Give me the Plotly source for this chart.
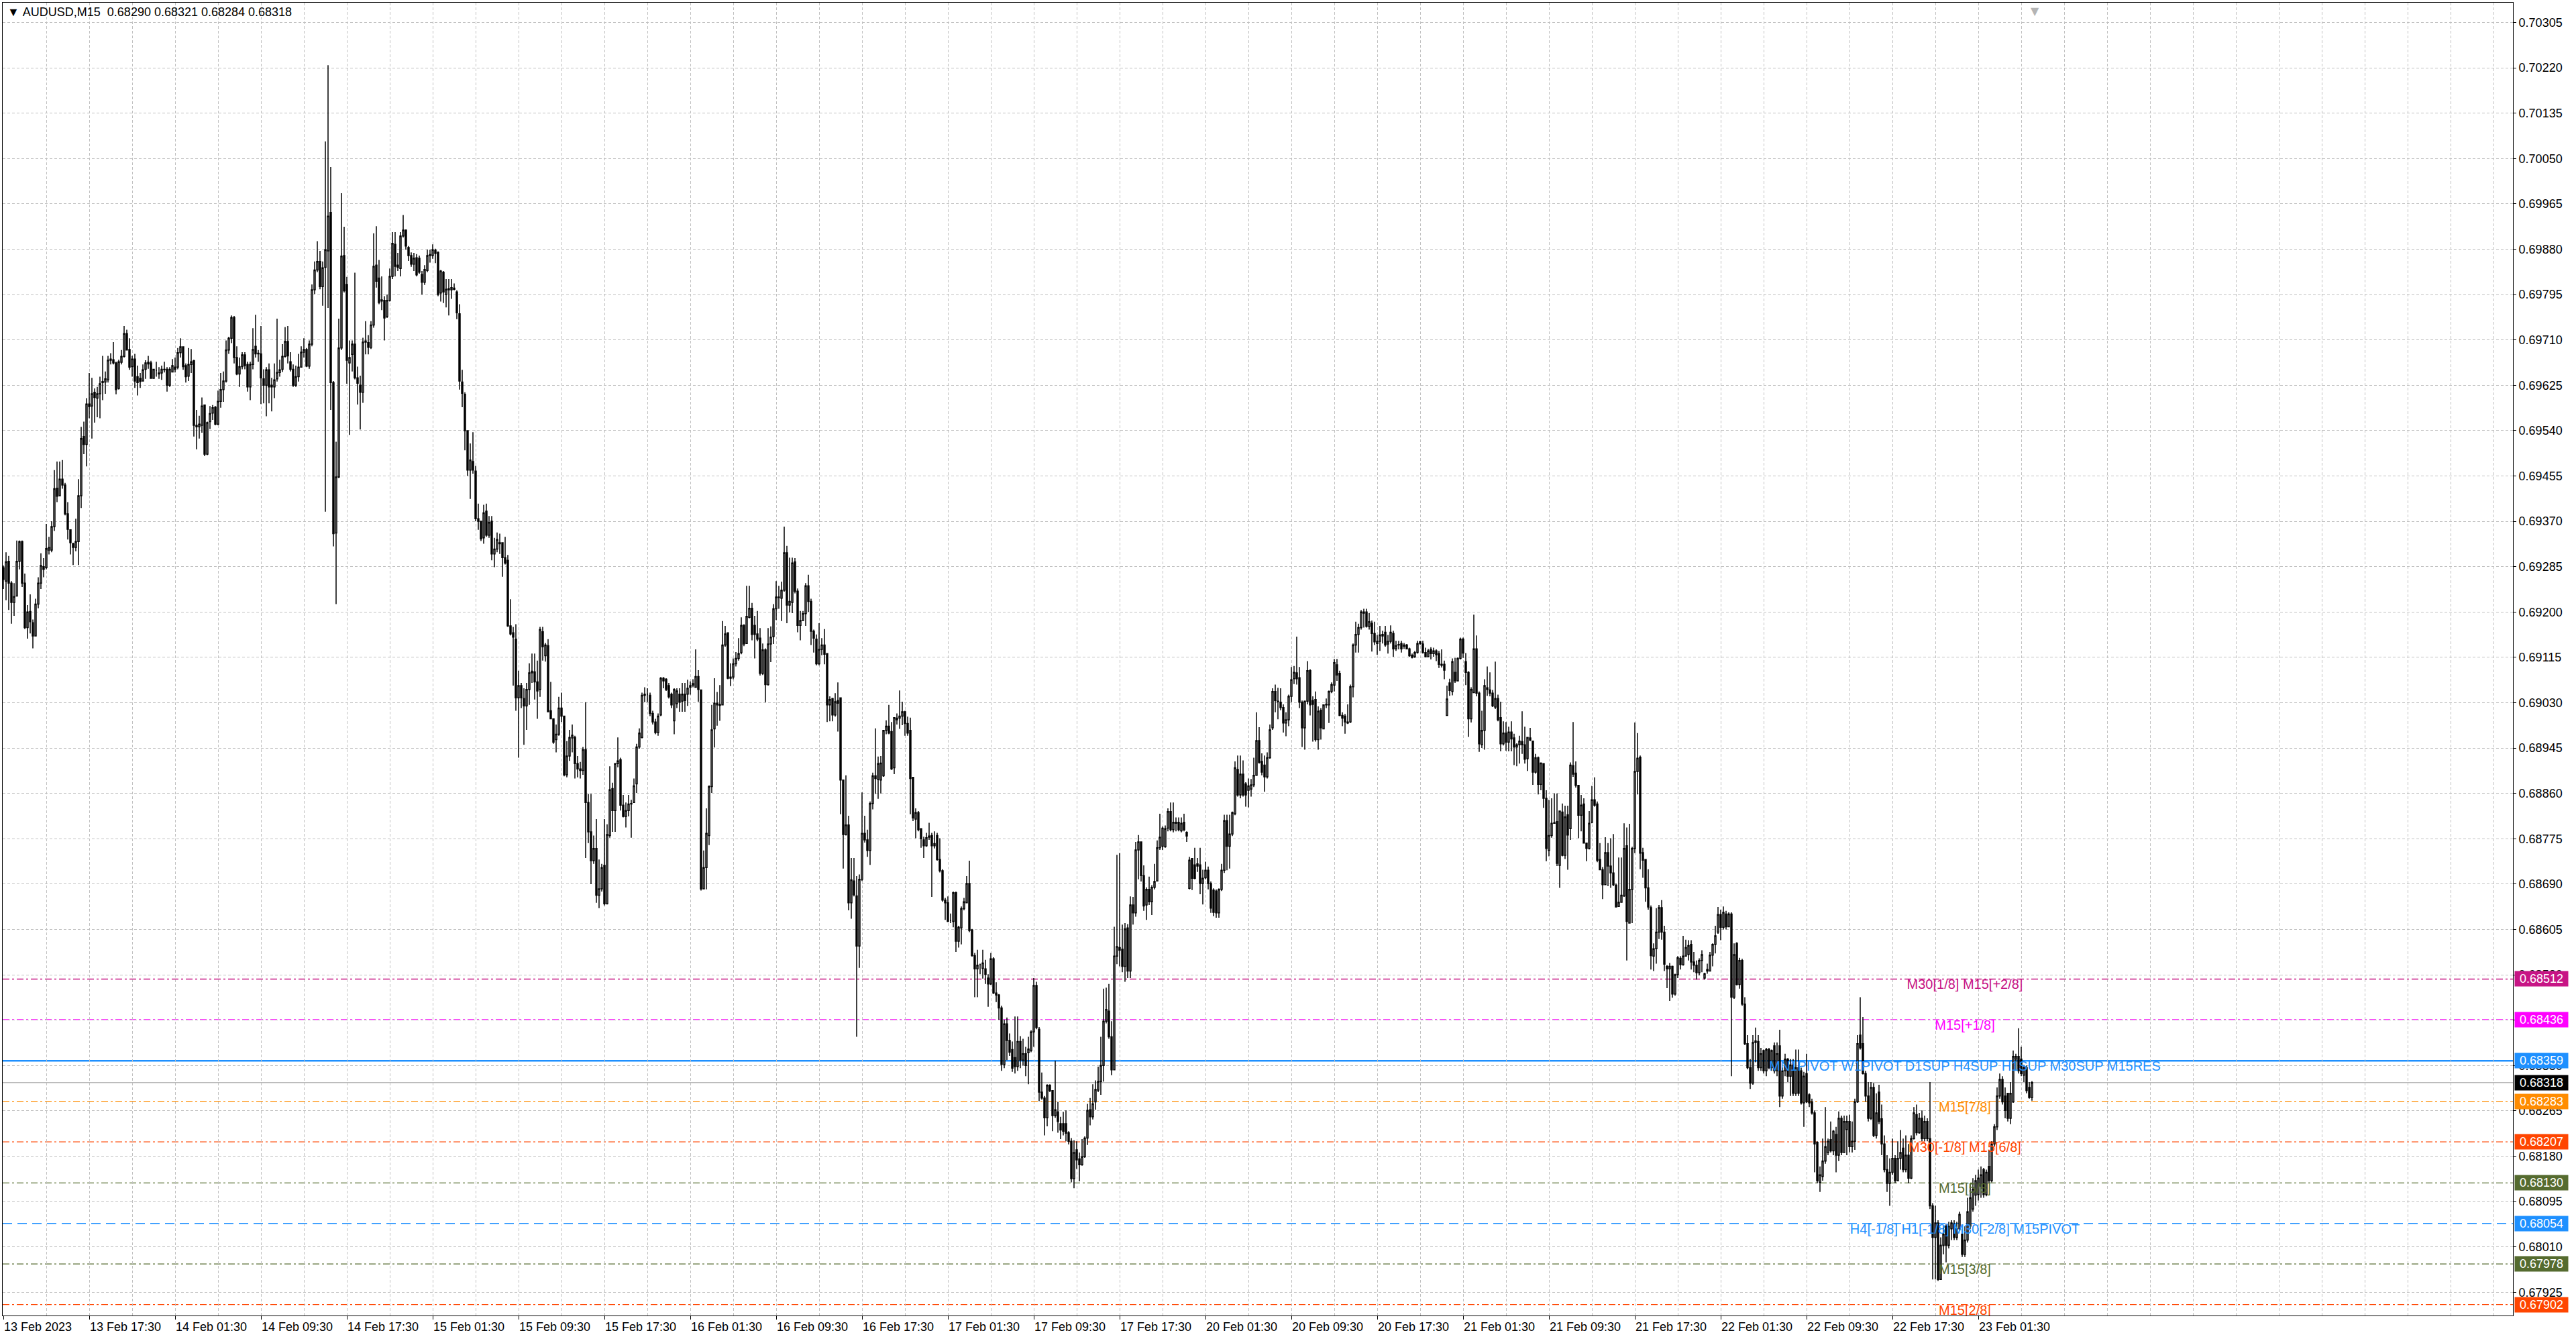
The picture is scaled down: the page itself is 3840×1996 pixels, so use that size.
import plotly.graph_objects as go

# ---------------- data (prices in points, 1 point = 0.00001) ----------------
open_pts = [
69283,69258,69295,69254,69218,69230,69295,69332,69254,69171,69201,69180,69155,69215,69254,69285,
69283,69316,69316,69360,69432,69418,69449,69438,69384,69354,69328,69321,69332,69418,69529,69514,
69590,69586,69612,69601,69609,69630,69631,69635,69672,69673,69667,69619,69668,69679,69722,69692,
69660,69674,69641,69638,69633,69655,69665,69667,69638,69653,69646,69648,69655,69655,69625,69650,
69659,69659,69686,69697,69662,69642,69664,69671,69550,69547,69550,69588,69496,69557,69573,69584,
69552,69595,69617,69633,69691,69713,69752,69677,69646,69660,69682,69664,69622,69664,69698,69684,
69684,69637,69625,69654,69625,69622,69637,69649,69655,69679,69707,69669,69655,69625,69641,69659,
69687,69692,69661,69702,69804,69841,69857,69810,69846,69877,69949,69630,69348,69453,69695,69868,
69814,69667,69683,69702,69639,69625,69612,69706,69705,69696,69738,69850,69826,69785,69784,69754,
69784,69829,69889,69850,69844,69905,69916,69883,69868,69852,69864,69863,69833,69818,69840,69868,
69868,69878,69874,69798,69837,69795,69806,69804,69807,69800,69759,69631,69608,69540,69466,69482,
69464,69375,69370,69339,69389,69344,69370,69309,69318,69330,69330,69302,69297,69174,69161,69149,
69039,69062,69038,69024,69055,69086,69088,69069,69055,69163,69118,69137,69015,69000,68961,68971,
69020,69005,68895,68930,68964,68965,68916,68906,68903,68942,68843,68788,68734,68757,68669,68681,
68725,68653,68781,68869,68828,68916,68923,68838,68817,68828,68840,68843,68878,68947,68965,69044,
69046,69044,69010,68994,68974,69007,69076,69074,69062,69046,68996,69028,69046,69033,69046,69046,
69059,69063,69059,69079,69054,68681,68721,68781,68873,68981,69029,69027,69026,69138,69161,69076,
69078,69103,69113,69124,69175,69141,69190,69207,69175,69159,69151,69085,69129,69064,69140,69154,
69206,69228,69226,69241,69311,69213,69218,69294,69239,69175,69184,69197,69249,69220,69164,69149,
69103,69130,69138,69122,69026,69038,69007,69034,69039,68885,68783,68801,68655,68696,68668,68574,
68699,68785,68773,68753,68841,68893,68886,68885,68893,68978,68986,68976,68908,68998,69001,69005,
69013,68991,68978,68890,68812,68824,68794,68773,68762,68778,68781,68762,68781,68736,68715,68660,
68655,68622,68620,68674,68583,68608,68644,68655,68691,68604,68556,68531,68539,68532,68531,68514,
68503,68550,68486,68482,68458,68352,68428,68397,68380,68365,68348,68395,68360,68372,68374,68378,
68413,68500,68418,68300,68289,68252,68313,68303,68256,68263,68241,68241,68241,68224,68208,68138,
68192,68175,68164,68179,68214,68267,68254,68282,68304,68320,68350,68433,68452,68404,68342,68555,
68571,68568,68536,68608,68527,68651,68636,68754,68769,68706,68651,68680,68657,68684,68696,68758,
68761,68760,68795,68826,68792,68806,68806,68790,68806,68787,68682,68738,68726,68728,68726,68691,
68702,68716,68691,68679,68677,68636,68680,68716,68809,68761,68784,68822,68905,68857,68896,68878,
68866,68868,68876,68894,68959,68920,68913,68891,68927,68983,69051,69033,69031,69021,68992,68998,
69042,69075,69086,69077,69031,68983,69033,69090,69034,69036,68961,69016,68981,69026,69026,69051,
69063,69101,69085,69006,69005,68992,68994,69060,69138,69158,69171,69198,69200,69173,69179,69160,
69141,69145,69155,69162,69140,69145,69160,69131,69138,69141,69136,69138,69131,69119,69116,69124,
69141,69140,69124,69116,69130,69122,69127,69122,69102,69102,69006,69067,69051,69087,69071,69113,
69149,69107,69087,69000,69049,69131,69048,68951,68978,69058,69054,69048,69022,69038,69002,68953,
68973,68956,68975,68964,68947,68951,68957,68951,68925,68964,68958,68900,68927,68877,68916,68851,
68753,68781,68804,68807,68725,68825,68744,68820,68794,68912,68898,68875,68819,68840,68767,68757,
68806,68848,68840,68736,68717,68689,68749,68724,68711,68688,68648,68656,68668,68762,68617,68680,
68757,68901,68928,68749,68736,68683,68646,68555,68569,68600,68646,68600,68536,68531,68536,68484,
68520,68551,68539,68555,68558,68577,68544,68538,68524,68547,68514,68530,68527,68557,68577,68600,
68633,68609,68634,68610,68634,68478,68579,68502,68547,68465,68391,68346,68317,68393,68395,68346,
68378,68340,68380,68346,68387,68340,68387,68293,68340,68362,68330,68351,68298,68346,68340,68280,
68335,68295,68282,68261,68206,68131,68142,68171,68187,68211,68190,68221,68182,68251,68187,68230,
68245,68198,68208,68282,68407,68391,68335,68293,68251,68309,68219,68300,68250,68203,68155,68129,
68150,68176,68134,68176,68195,68155,68182,68139,68213,68258,68224,68251,68213,68245,68213,68087,
68028,68055,67949,68013,68049,68013,68044,68052,68028,68044,68034,67996,68023,68049,68081,68107,
68108,68124,68155,68108,68161,68134,68203,68235,68293,68324,68293,68298,68251,68282,68362,68367,
68362,68332,68346,68309,68290,
]
high_pts = [
69287,69312,69305,69258,69254,69334,69334,69334,69272,69213,69233,69186,69225,69265,69310,69301,
69365,69341,69370,69466,69482,69482,69485,69442,69406,69355,69330,69375,69449,69547,69557,69601,
69648,69639,69619,69622,69641,69680,69651,69680,69685,69706,69669,69673,69691,69736,69729,69713,
69680,69684,69662,69648,69664,69672,69680,69671,69656,69669,69659,69662,69669,69659,69659,69674,
69677,69695,69713,69698,69666,69695,69693,69673,69579,69568,69602,69588,69557,69586,69588,69586,
69615,69648,69651,69709,69716,69756,69755,69698,69677,69687,69687,69669,69669,69732,69757,69691,
69736,69655,69659,69666,69639,69666,69750,69673,69702,69734,69736,69687,69664,69662,69684,69698,
69713,69695,69709,69814,69857,69895,69877,69857,70082,70225,70034,69633,69519,69750,69985,69922,
69828,69709,69709,69836,69660,69643,69714,69745,69719,69745,69910,69923,69860,69829,69792,69795,
69844,69912,69912,69873,69912,69944,69917,69886,69874,69873,69871,69868,69839,69850,69879,69879,
69889,69881,69876,69841,69839,69824,69824,69824,69816,69803,69777,69654,69612,69540,69516,69537,
69474,69403,69370,69401,69403,69380,69380,69339,69349,69347,69330,69341,69307,69224,69172,69177,
69090,69067,69057,69067,69104,69122,69122,69109,69172,69172,69142,69149,69069,69000,68989,69041,
69049,69005,68958,68979,68989,68968,68930,68919,68947,69031,68859,68859,68781,68812,68736,68728,
68812,68802,68911,68880,68916,68965,68927,68857,68843,68857,68848,68888,68953,68982,69049,69059,
69057,69049,69015,69000,69010,69078,69078,69076,69067,69049,69057,69057,69057,69067,69067,69073,
69070,69074,69130,69091,69055,68753,68832,68875,69026,69076,69050,69063,69183,69174,69162,69104,
69113,69125,69151,69190,69177,69249,69249,69217,69193,69202,69170,69141,69132,69170,69173,69215,
69258,69249,69257,69360,69324,69302,69302,69301,69244,69202,69202,69254,69270,69225,69167,69158,
69179,69151,69168,69123,69042,69039,69048,69068,69039,68885,68894,68818,68739,68739,68705,68708,
68862,68818,68792,68845,68899,68982,68929,68930,68978,68997,69026,68994,69002,69010,69053,69032,
69015,69004,69002,68890,68832,68827,68795,68779,68786,68805,68786,68789,68786,68776,68718,68664,
68667,68635,68676,68676,68612,68648,68664,68705,68734,68606,68561,68567,68541,68567,68548,68521,
68561,68553,68506,68484,68462,68436,68440,68410,68395,68442,68442,68405,68400,68385,68404,68416,
68514,68507,68422,68337,68293,68315,68315,68304,68359,68282,68254,68263,68266,68227,68214,68210,
68208,68187,68212,68217,68278,68289,68315,68322,68348,68404,68494,68496,68503,68433,68610,68745,
68748,68614,68617,68615,68667,68666,68769,68782,68770,68725,68684,68704,68688,68728,68772,68822,
68798,68800,68832,68843,68843,68815,68815,68815,68822,68789,68741,68739,68758,68739,68758,68717,
68732,68723,68695,68682,68680,68682,68728,68820,68820,68820,68826,68920,68931,68931,68922,68881,
68888,68887,68927,69012,68984,68935,68931,68937,68989,69057,69064,69058,69057,69027,69012,69045,
69097,69099,69154,69097,69034,69034,69108,69093,69042,69051,69023,69020,69027,69038,69053,69068,
69112,69112,69090,69012,69009,69027,69064,69141,69182,69178,69204,69206,69206,69198,69184,69182,
69157,69174,69165,69174,69157,69175,69165,69146,69146,69146,69142,69140,69133,69122,69127,69146,
69146,69146,69133,69131,69134,69133,69130,69127,69130,69109,69062,69075,69113,69114,69115,69152,
69152,69123,69089,69059,69195,69156,69051,69015,69074,69098,69087,69054,69107,69045,69032,68995,
68994,68985,68995,68972,68954,68968,69014,68985,68966,68983,68958,68934,68929,68918,68916,68866,
68848,68851,68860,68860,68827,68841,68837,68837,68918,68994,68920,68875,68857,68851,68767,68827,
68874,68890,68845,68767,68722,68778,68767,68776,68784,68691,68740,68740,68804,68796,68803,68760,
68993,68973,68931,68758,68736,68718,68650,68579,68645,68651,68660,68612,68538,68542,68537,68522,
68555,68555,68593,68586,68585,68585,68563,68547,68551,68566,68524,68541,68563,68579,68612,68647,
68642,68648,68640,68637,68637,68579,68581,68552,68550,68478,68407,68362,68407,68421,68407,68383,
68380,68383,68383,68380,68393,68393,68417,68346,68372,68364,68362,68362,68380,68380,68346,68338,
68372,68298,68288,68266,68208,68161,68213,68272,68213,68245,68229,68235,68264,68256,68256,68256,
68258,68245,68288,68407,68478,68441,68340,68319,68319,68317,68298,68314,68277,68219,68182,68176,
68213,68182,68208,68229,68213,68219,68203,68219,68272,68277,68261,68266,68256,68251,68319,68092,
68087,68060,68028,68049,68052,68057,68060,68060,68057,68076,68044,68049,68102,68129,68139,68145,
68155,68161,68158,68155,68192,68208,68240,68309,68335,68330,68309,68298,68319,68378,68372,68420,
68385,68351,68350,68319,68321,
]
low_pts = [
69243,69222,69204,69178,69193,69230,69280,69247,69168,69150,69160,69132,69155,69207,69243,69265,
69280,69308,69312,69352,69406,69417,69431,69381,69336,69308,69288,69314,69288,69395,69496,69473,
69563,69525,69555,69565,69563,69597,69609,69630,69664,69664,69608,69617,69664,69677,69690,69654,
69641,69620,69606,69620,69632,69637,69656,69638,69637,69641,69637,69635,69649,69613,69622,69649,
69649,69655,69677,69654,69630,69633,69648,69529,69505,69525,69536,69492,69494,69543,69560,69550,
69550,69583,69594,69630,69684,69704,69666,69644,69622,69655,69655,69613,69597,69655,69677,69669,
69590,69591,69567,69591,69576,69601,69632,69641,69650,69677,69666,69651,69622,69622,69632,69658,
69677,69659,69656,69698,69796,69837,69805,69774,69388,69770,69579,69323,69215,69451,69691,69799,
69628,69532,69651,69636,69589,69542,69592,69683,69683,69693,69733,69808,69777,69766,69709,69751,
69782,69824,69829,69839,69829,69902,69879,69858,69847,69839,69829,69834,69795,69813,69837,69855,
69862,69854,69792,69782,69779,69771,69756,69787,69803,69749,69617,69584,69503,69455,69412,69459,
69370,69354,69333,69328,69341,69339,69297,69284,69312,69309,69266,69289,69172,69156,69062,69015,
68927,69020,68951,68979,69026,69067,69036,69000,69041,69109,69107,69013,69000,68953,68937,68968,
68994,68892,68890,68921,68937,68888,68890,68888,68895,68739,68767,68690,68728,68655,68645,68676,
68650,68652,68777,68788,68788,68909,68828,68815,68796,68817,68777,68843,68861,68944,68963,69031,
69031,69005,68989,68971,68968,69005,69057,69052,69038,69020,68971,69020,69013,69013,69013,69024,
69045,69059,69058,69032,68678,68680,68680,68763,68861,68946,68987,68996,69025,69135,69074,69061,
69074,69098,69109,69121,69136,69140,69188,69147,69113,69145,69081,69082,69031,69062,69106,69140,
69185,69206,69183,69238,69179,69199,69198,69235,69162,69147,69183,69174,69200,69138,69124,69100,
69100,69119,69102,68994,68995,68995,69004,68976,68821,68719,68781,68641,68625,68667,68404,68533,
68696,68768,68741,68726,68830,68859,68850,68860,68891,68971,68971,68904,68896,68989,68981,68988,
68968,68968,68821,68808,68776,68789,68758,68739,68760,68773,68666,68757,68734,68712,68657,68623,
68619,68617,68609,68563,68571,68577,68641,68654,68600,68554,68478,68478,68521,68513,68503,68460,
68501,68484,68469,68436,68340,68345,68360,68368,68338,68335,68340,68345,68350,68330,68315,68375,
68385,68418,68283,68286,68219,68236,68300,68227,68252,68224,68212,68219,68208,68202,68131,68120,
68156,68133,68162,68177,68201,68238,68249,68267,68300,68295,68320,68429,68400,68332,68341,68540,
68536,68525,68507,68514,68514,68614,68629,68699,68695,68640,68623,68651,68632,68680,68695,68754,
68754,68758,68789,68789,68787,68789,68789,68787,68789,68769,68680,68679,68699,68713,68671,68652,
68699,68680,68636,68630,68627,68627,68677,68711,68716,68719,68780,68819,68854,68851,68854,68835,
68834,68854,68872,68894,68916,68894,68863,68888,68925,68979,69012,68999,69016,68974,68967,68986,
69031,69065,69064,69020,68947,68942,69027,69006,68957,68957,68942,68961,68981,69020,68992,69048,
69051,69071,69005,68986,68972,68990,68992,69040,69124,69124,69167,69171,69171,69167,69126,69138,
69120,69127,69141,69135,69122,69141,69116,69127,69130,69124,69131,69131,69116,69113,69114,69122,
69138,69122,69115,69116,69111,69116,69108,69095,69096,69074,69006,69043,69044,69067,69070,69111,
69114,69063,68966,68993,69048,69042,68938,68945,68942,69043,69042,69022,69018,68995,68939,68950,
68940,68939,68939,68913,68911,68916,68934,68916,68902,68958,68876,68897,68858,68866,68833,68733,
68742,68777,68803,68724,68683,68742,68737,68717,68773,68891,68871,68776,68789,68766,68733,68755,
68804,68835,68731,68716,68662,68688,68686,68683,68686,68647,68647,68655,68666,68547,68616,68617,
68748,68858,68718,68702,68657,68642,68530,68527,68541,68587,68586,68527,68495,68471,68477,68481,
68514,68530,68537,68555,68547,68530,68525,68511,68519,68525,68511,68522,68526,68536,68560,68597,
68585,68605,68605,68610,68330,68475,68500,68494,68462,68388,68343,68306,68314,68356,68340,68340,
68335,68330,68343,68340,68335,68330,68272,68288,68330,68319,68293,68293,68293,68293,68277,68235,
68280,68272,68258,68150,68129,68113,68134,68166,68182,68187,68182,68150,68171,68182,68187,68182,
68187,68187,68192,68280,68380,68333,68282,68245,68248,68216,68213,68240,68182,68150,68113,68087,
68145,68129,68134,68155,68150,68150,68129,68137,68211,68219,68222,68208,68208,68208,68081,67949,
67949,67946,67949,67996,67981,68007,68023,68023,68023,68040,67991,67991,68018,68044,68076,68087,
68097,68102,68102,68105,68129,68131,68198,68229,68288,68277,68251,68245,68240,68280,68340,68335,
68330,68319,68298,68288,68284,
]
close_pts = [
69261,69294,69254,69218,69229,69295,69332,69254,69171,69200,69182,69155,69215,69254,69287,69280,
69319,69321,69360,69431,69417,69449,69438,69384,69355,69330,69321,69332,69418,69525,69514,69590,
69585,69609,69602,69609,69628,69632,69637,69672,69674,69667,69617,69669,69679,69722,69691,69659,
69674,69633,69630,69632,69654,69667,69668,69638,69655,69653,69648,69655,69654,69625,69655,69662,
69655,69686,69697,69660,69641,69664,69669,69550,69547,69552,69586,69496,69555,69572,69583,69552,
69595,69617,69633,69691,69713,69752,69677,69646,69660,69682,69662,69622,69664,69692,69684,69685,
69639,69625,69654,69622,69622,69635,69649,69654,69679,69707,69680,69655,69625,69641,69659,69687,
69692,69661,69702,69804,69841,69857,69810,69845,69879,69942,69630,69347,69453,69695,69867,69802,
69672,69677,69702,69639,69629,69612,69706,69708,69696,69738,69848,69820,69780,69783,69751,69784,
69829,69891,69848,69846,69905,69916,69886,69868,69852,69863,69832,69837,69818,69842,69868,69870,
69879,69872,69795,69839,69800,69805,69804,69808,69805,69761,69633,69610,69540,69466,69485,69466,
69375,69370,69337,69386,69344,69368,69309,69318,69336,69328,69302,69292,69174,69159,69153,69039,
69062,69039,69024,69055,69086,69089,69069,69052,69167,69135,69138,69013,69000,68956,68971,69020,
69005,68895,68930,68965,68969,68916,68906,68903,68942,68843,68788,68734,68757,68669,68681,68721,
68653,68783,68867,68828,68916,68921,68838,68817,68828,68840,68841,68874,68947,68973,69044,69046,
69046,69010,68994,68974,69005,69076,69071,69055,69041,69026,69055,69052,69031,69046,69034,69057,
69062,69066,69079,69055,68681,68721,68785,68873,68979,69029,69026,69025,69138,69159,69076,69078,
69103,69113,69122,69175,69140,69192,69207,69158,69158,69149,69085,69129,69064,69140,69153,69206,
69228,69227,69241,69311,69213,69220,69292,69239,69175,69184,69197,69249,69220,69164,69151,69103,
69130,69138,69121,69026,69036,69007,69032,69029,68885,68783,68801,68655,68698,68670,68574,68699,
68785,68773,68753,68841,68893,68888,68916,68917,68978,68986,68973,68906,69002,69001,69005,69013,
68991,68973,68888,68814,68824,68792,68775,68762,68777,68780,68762,68766,68736,68715,68660,68655,
68620,68622,68674,68583,68609,68644,68657,68691,68603,68556,68531,68538,68539,68542,68521,68503,
68550,68486,68482,68458,68352,68428,68397,68375,68345,68348,68395,68360,68372,68350,68381,68413,
68500,68421,68300,68289,68252,68313,68303,68256,68267,68245,68229,68227,68223,68208,68138,68187,
68173,68164,68179,68214,68266,68254,68278,68305,68320,68350,68433,68455,68404,68342,68555,68573,
68566,68536,68606,68527,68651,68636,68754,68769,68706,68649,68680,68657,68684,68695,68758,68778,
68795,68794,68826,68792,68806,68804,68792,68804,68792,68780,68735,68701,68701,68724,68691,68701,
68716,68691,68645,68637,68636,68680,68716,68809,68761,68784,68824,68908,68857,68896,68857,68857,
68874,68876,68894,68959,68918,68900,68891,68927,68979,69051,69034,69032,69021,68992,68998,69042,
69073,69087,69075,69031,68983,69033,69090,69026,69027,68961,69014,68983,69026,69027,69051,69064,
69105,69082,69006,69001,68994,68994,69060,69138,69158,69171,69200,69200,69173,69182,69160,69144,
69145,69157,69158,69138,69145,69162,69131,69137,69139,69131,69138,69131,69118,69115,69124,69141,
69144,69124,69116,69127,69122,69127,69120,69102,69100,69091,69037,69053,69107,69071,69113,69149,
69123,69087,69000,69055,69131,69048,68953,68978,69062,69055,69048,69024,69038,68998,68953,68973,
68956,68975,68962,68947,68951,68958,68951,68924,68965,68960,68900,68927,68877,68917,68851,68757,
68781,68804,68805,68729,68827,68744,68816,68782,68913,68896,68875,68819,68838,68767,68757,68804,
68848,68838,68735,68717,68689,68749,68724,68711,68689,68647,68656,68669,68757,68620,68680,68757,
68901,68926,68748,68735,68683,68647,68556,68569,68600,68646,68600,68540,68531,68536,68484,68520,
68552,68539,68555,68571,68575,68544,68538,68524,68547,68558,68522,68527,68557,68577,68593,68633,
68609,68637,68610,68634,68478,68558,68502,68547,68465,68391,68346,68317,68393,68396,68346,68372,
68340,68380,68346,68378,68340,68372,68293,68340,68362,68330,68351,68298,68346,68298,68280,68330,
68282,68280,68261,68203,68134,68145,68171,68198,68208,68190,68227,68182,68251,68187,68245,68245,
68198,68208,68282,68391,68383,68335,68293,68251,68309,68219,68261,68245,68203,68155,68129,68150,
68176,68134,68176,68187,68155,68182,68139,68213,68261,68224,68251,68213,68245,68213,68087,68028,
68055,67949,68013,68034,68013,68049,68055,68028,68044,68071,67996,68023,68076,68102,68118,68134,
68139,68145,68108,68150,68134,68203,68235,68293,68324,68282,68266,68251,68298,68367,68367,68340,
68335,68346,68303,68290,68318,
]

# time-axis labels: one every 32 M15 bars (8 hours), grid every 16 bars
tick_bars = [0, 32, 64, 96, 128, 160, 192, 224, 256, 288, 320, 352,
             384, 416, 448, 480, 512, 544, 576, 608, 640, 672, 704, 736]
tick_labels = ["13 Feb 2023", "13 Feb 17:30", "14 Feb 01:30", "14 Feb 09:30",
               "14 Feb 17:30", "15 Feb 01:30", "15 Feb 09:30", "15 Feb 17:30",
               "16 Feb 01:30", "16 Feb 09:30", "16 Feb 17:30", "17 Feb 01:30",
               "17 Feb 09:30", "17 Feb 17:30", "20 Feb 01:30", "20 Feb 09:30",
               "20 Feb 17:30", "21 Feb 01:30", "21 Feb 09:30", "21 Feb 17:30",
               "22 Feb 01:30", "22 Feb 09:30", "22 Feb 17:30", "23 Feb 01:30"]

price_ticks = [0.70305, 0.70220, 0.70135, 0.70050, 0.69965, 0.69880, 0.69795,
               0.69710, 0.69625, 0.69540, 0.69455, 0.69370, 0.69285, 0.69200,
               0.69115, 0.69030, 0.68945, 0.68860, 0.68775, 0.68690, 0.68605,
               0.68520, 0.68435, 0.68350, 0.68265, 0.68180, 0.68095, 0.68010,
               0.67925]

level_prices = [0.68512, 0.68436, 0.68359, 0.68283, 0.68207, 0.68130, 0.68054, 0.67978, 0.67902]
level_labels = ["M30[1/8] M15[+2/8]", "M15[+1/8]",
                "MN1PIVOT W1PIVOT D1SUP H4SUP H1SUP M30SUP M15RES",
                "M15[7/8]", "M30[-1/8] M15[6/8]", "M15[5/8]",
                "H4[-1/8] H1[-1/8] M30[-2/8] M15PIVOT", "M15[3/8]", "M15[2/8]"]
level_colors = ["#C71585", "#FF00FF", "#1E90FF", "#FF8C00", "#FF4500",
                "#556B2F", "#1E90FF", "#556B2F", "#FF4500"]
level_styles = ["10px,4px,3px,4px", "10px,4px,3px,4px", "solid", "10px,4px,3px,4px",
                "10px,4px,3px,4px", "10px,4px,3px,4px", "14px,8px", "10px,4px,3px,4px",
                "10px,4px,3px,4px"]
level_widths = [1.3, 1.3, 2.5, 1.3, 1.3, 1.3, 1.3, 1.3, 1.3]

bid_price = 0.68318
title_text = "AUDUSD,M15\u00a0\u00a00.68290 0.68321 0.68284 0.68318"
label_bar = 731
n_slots = 935

# ---------------- figure ----------------
opens = [v / 1e5 for v in open_pts]
highs = [v / 1e5 for v in high_pts]
lows = [v / 1e5 for v in low_pts]
closes = [v / 1e5 for v in close_pts]
bars = list(range(len(closes)))

FONT = "Liberation Sans, Arial, sans-serif"
GRID = "#C0C0C0"
GDASH = "4px,3px"

fig = go.Figure()
fig.add_trace(go.Candlestick(
    x=bars, open=opens, high=highs, low=lows, close=closes,
    increasing=dict(fillcolor="white", line=dict(color="black", width=1.5)),
    decreasing=dict(fillcolor="black", line=dict(color="black", width=1.5)),
    whiskerwidth=0, hoverinfo="skip", showlegend=False,
))

shapes = []
for p, c, d, w in zip(level_prices, level_colors, level_styles, level_widths):
    shapes.append(dict(type="line", xref="paper", x0=0, x1=1, yref="y", y0=p, y1=p,
                       line=dict(color=c, width=w, dash=d), layer="between"))
shapes.append(dict(type="line", xref="paper", x0=0, x1=1, yref="y", y0=bid_price, y1=bid_price,
                   line=dict(color="#B8B8B8", width=1.3), layer="between"))

fig.add_trace(go.Scatter(
    x=[label_bar] * len(level_prices), y=level_prices, mode="text",
    text=level_labels, textposition="bottom center",
    textfont=dict(family=FONT, size=20, color=level_colors),
    hoverinfo="skip", showlegend=False, cliponaxis=True,
))

annotations = []
for p, c in zip(level_prices + [bid_price], level_colors + ["#000000"]):
    annotations.append(dict(xref="paper", x=1, xanchor="left", xshift=2,
                            yref="y", y=p, yanchor="middle",
                            text=f"{p:.5f}", showarrow=False, align="center",
                            width=79, height=22, borderpad=0, bgcolor=c,
                            font=dict(family=FONT, size=18, color="white")))
annotations.append(dict(xref="paper", x=0, xanchor="left", xshift=5,
                        yref="paper", y=1, yanchor="top", yshift=-2,
                        text="\u25bc\u00a0" + title_text, showarrow=False,
                        font=dict(family=FONT, size=18, color="black")))
annotations.append(dict(xref="x", x=757, xanchor="center",
                        yref="paper", y=1, yanchor="top", yshift=-1,
                        text="\u25bc", showarrow=False,
                        font=dict(family="DejaVu Sans", size=16, color="#B4B4B4")))

fig.update_layout(
    width=3840, height=1996,
    margin=dict(l=4, r=94, t=4, b=35),
    paper_bgcolor="white", plot_bgcolor="white",
    font=dict(family=FONT, size=18, color="black"),
    showlegend=False, shapes=shapes, annotations=annotations,
    xaxis=dict(range=[-0.25, n_slots + 0.25], tickmode="array",
               tickvals=tick_bars, ticktext=tick_labels,
               ticks="outside", ticklen=5, tickcolor="black", tickwidth=1,
               ticklabelposition="outside right",
               showline=True, linecolor="black", linewidth=1, mirror=True,
               showgrid=True, gridcolor=GRID, griddash=GDASH, gridwidth=1,
               minor=dict(tickmode="linear", tick0=0, dtick=16, showgrid=True,
                          gridcolor=GRID, griddash=GDASH, gridwidth=1, ticks=""),
               zeroline=False, rangeslider=dict(visible=False), fixedrange=True,
               tickfont=dict(family=FONT, size=18, color="black")),
    yaxis=dict(side="right", range=[0.678814, 0.703421], tickmode="array",
               tickvals=price_ticks, ticktext=[f"{v:.5f}" for v in price_ticks],
               ticks="outside", ticklen=4, tickcolor="black", tickwidth=1,
               showline=True, linecolor="black", linewidth=1, mirror=True,
               showgrid=True, gridcolor=GRID, griddash=GDASH, gridwidth=1,
               zeroline=False, fixedrange=True,
               tickfont=dict(family=FONT, size=18, color="black")),
)

fig.write_html("out.html", config={"displayModeBar": False, "staticPlot": True},
               post_script="document.body.style.margin='0';document.body.style.overflow='hidden';")
